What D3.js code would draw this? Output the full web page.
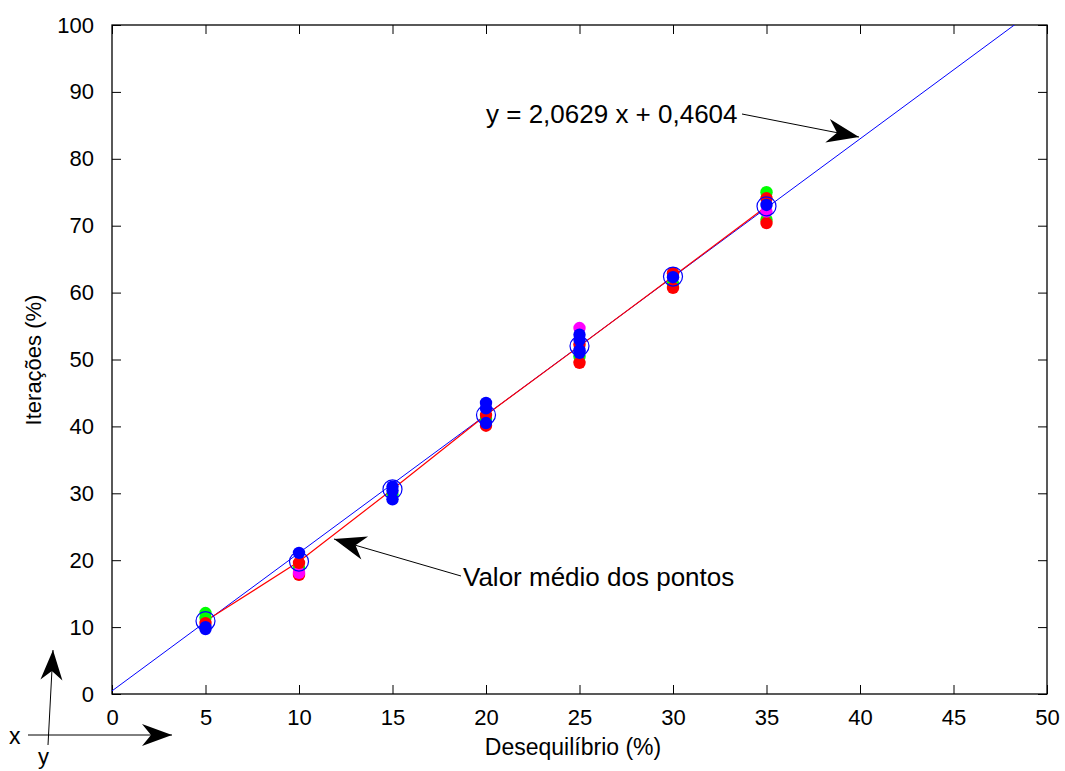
<!DOCTYPE html>
<html>
<head>
<meta charset="utf-8">
<script src="https://d3js.org/d3.v7.min.js"></script>
<style>
body { margin: 0; background: #fff; }
svg { font-family: "Liberation Sans", Arial, sans-serif; }
</style>
</head>
<body>
<svg width="1065" height="771"></svg>
<script>
// desequilibrio (%) values
var xCats = [5, 10, 15, 20, 25, 30, 35];

// individual runs per x, each colour a series
var greenPts   = [12.1, 18.8, 29.8, 41.1, 50.4, 61.3, 75.0];
var greenPts2  = [11.4, null, null, null, null, null, 70.9];
var redPts     = [10.6, 19.6, null, 41.7, 52.2, 62.9, 74.1];
var redPts2    = [null, 17.8, null, 40.1, 49.5, 60.7, 70.4];
var magentaPts = [null, 18.1, null, null, 54.7, null, 72.1];
var bluePts    = [10.0, 21.1, 31.0, 43.5, 53.7, 62.3, 73.1];
var bluePts2   = [9.7, null, 29.1, 42.7, 52.9, null, null];
var bluePts3   = [null, null, 30.4, 40.5, 51.4, null, null];
var bluePts4   = [null, null, null, null, 51.0, null, null];

// media dos pontos
var meanVals = [10.9, 19.8, 30.6, 41.7, 52.0, 62.4, 72.9];

// regressao
var slope = 2.0629, intercept = 0.4604;

var xTicks = [0, 5, 10, 15, 20, 25, 30, 35, 40, 45, 50];
var yTicks = [0, 10, 20, 30, 40, 50, 60, 70, 80, 90, 100];

var svg = d3.select("svg");
var mLeft = 112, mRight = 1047, mTop = 25, mBottom = 694;

var x = d3.scaleLinear().domain([0, 50]).range([mLeft, mRight]);
var y = d3.scaleLinear().domain([0, 100]).range([mBottom, mTop]);

var defs = svg.append("defs");
defs.append("clipPath").attr("id", "plotclip")
  .append("rect").attr("x", mLeft).attr("y", mTop)
  .attr("width", mRight - mLeft).attr("height", mBottom - mTop);

// axes with inward ticks
var tl = 9;
svg.append("g").attr("transform", "translate(0," + mBottom + ")")
  .call(d3.axisBottom(x).tickValues(xTicks).tickSize(-tl).tickPadding(tl + 6))
  .call(g => g.select(".domain").remove());
svg.append("g").attr("transform", "translate(0," + mTop + ")")
  .call(d3.axisTop(x).tickValues(xTicks).tickSize(-tl).tickFormat(""))
  .call(g => g.select(".domain").remove());
svg.append("g").attr("transform", "translate(" + mLeft + ",0)")
  .call(d3.axisLeft(y).tickValues(yTicks).tickSize(-tl).tickPadding(tl + 9))
  .call(g => g.select(".domain").remove());
svg.append("g").attr("transform", "translate(" + mRight + ",0)")
  .call(d3.axisRight(y).tickValues(yTicks).tickSize(-tl).tickFormat(""))
  .call(g => g.select(".domain").remove());

svg.selectAll(".tick text").attr("font-size", 22).attr("fill", "#000")
  .attr("font-family", "Liberation Sans, Arial, sans-serif");
svg.selectAll(".tick line").attr("stroke", "#000");

svg.append("rect").attr("x", mLeft).attr("y", mTop)
  .attr("width", mRight - mLeft).attr("height", mBottom - mTop)
  .attr("fill", "none").attr("stroke", "#000").attr("stroke-width", 1.3);

var plot = svg.append("g").attr("clip-path", "url(#plotclip)");

// fit line
var x100 = (100 - intercept) / slope;
plot.append("line")
  .attr("x1", x(0)).attr("y1", y(intercept))
  .attr("x2", x(x100 + 1)).attr("y2", y(slope * (x100 + 1) + intercept))
  .attr("stroke", "#0000ff").attr("stroke-width", 1);

// mean line
var meanLine = d3.line().x((d, i) => x(xCats[i])).y(d => y(d));
plot.append("path").datum(meanVals).attr("d", meanLine)
  .attr("fill", "none").attr("stroke", "#ff0000").attr("stroke-width", 1.2);

function dots(vals, col) {
  plot.selectAll(null).data(vals.map((v, i) => [xCats[i], v]).filter(d => d[1] != null))
    .enter().append("circle")
    .attr("cx", d => x(d[0])).attr("cy", d => y(d[1])).attr("r", 6.2)
    .attr("fill", col);
}
dots(greenPts, "#00ff00");
dots(greenPts2, "#00ff00");
dots(redPts2, "#ff0000");
dots(magentaPts, "#ff00ff");
dots(redPts, "#ff0000");
dots(bluePts4, "#0000ff");
dots(bluePts3, "#0000ff");
dots(bluePts2, "#0000ff");
dots(bluePts, "#0000ff");

// open circles at means
plot.selectAll(null).data(meanVals).enter().append("circle")
  .attr("cx", (d, i) => x(xCats[i])).attr("cy", d => y(d)).attr("r", 9.5)
  .attr("fill", "none").attr("stroke", "#0000ff").attr("stroke-width", 1.2);

// axis titles
svg.append("text").attr("x", 573).attr("y", 755)
  .attr("text-anchor", "middle").attr("font-size", 23).text("Desequilíbrio (%)");
svg.append("text").attr("transform", "translate(41,360) rotate(-90)")
  .attr("text-anchor", "middle").attr("font-size", 22).text("Iterações (%)");

// arrowhead shape
function arrowHead(g, tip, from, len, wid) {
  var dx = tip[0] - from[0], dy = tip[1] - from[1];
  var L = Math.sqrt(dx * dx + dy * dy), ux = dx / L, uy = dy / L;
  var px = -uy, py = ux;
  var bx = tip[0] - ux * len, by = tip[1] - uy * len;
  var nx = tip[0] - ux * len * 0.7, ny = tip[1] - uy * len * 0.7;
  g.append("path")
    .attr("d", "M" + tip[0] + "," + tip[1] +
      "L" + (bx + px * wid) + "," + (by + py * wid) +
      "L" + nx + "," + ny +
      "L" + (bx - px * wid) + "," + (by - py * wid) + "Z")
    .attr("fill", "#000");
}
function arrow(from, tip, len, wid) {
  var g = svg.append("g");
  g.append("line").attr("x1", from[0]).attr("y1", from[1])
    .attr("x2", tip[0]).attr("y2", tip[1])
    .attr("stroke", "#000").attr("stroke-width", 1);
  arrowHead(g, tip, from, len, wid);
}

// equation annotation
svg.append("text").attr("x", 486).attr("y", 123).attr("font-size", 26)
  .text("y = 2,0629 x + 0,4604");
arrow([742, 114], [859, 137], 32, 12);

// mean annotation
svg.append("text").attr("x", 463).attr("y", 586).attr("font-size", 26)
  .text("Valor médio dos pontos");
arrow([461, 576], [334, 539], 32, 12);

// orientation arrows bottom-left
arrow([48, 745], [53, 650], 30, 11);
arrow([28, 735], [172, 735], 30, 11);
svg.append("text").attr("x", 9).attr("y", 744).attr("font-size", 23).text("x");
svg.append("text").attr("x", 38).attr("y", 764).attr("font-size", 22).text("y");
</script>
</body>
</html>
